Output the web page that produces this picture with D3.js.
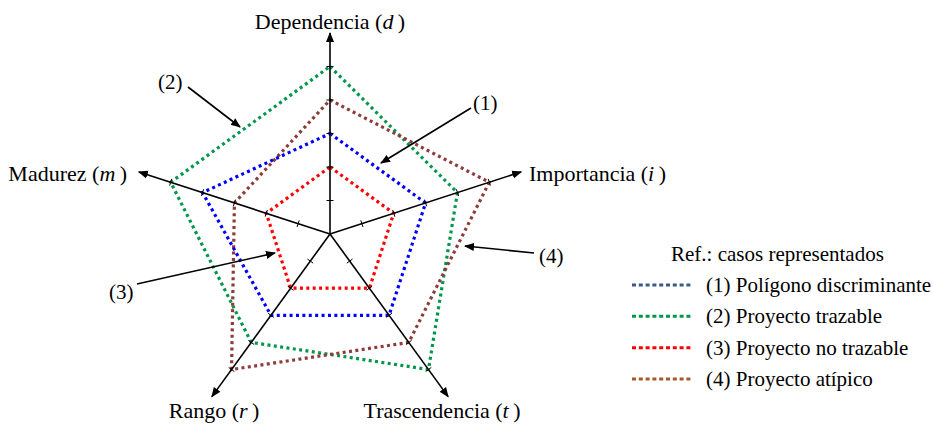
<!DOCTYPE html>
<html>
<head>
<meta charset="utf-8">
<script src="https://cdn.jsdelivr.net/npm/d3@7"></script>
<style>
  body { margin: 0; background: #fff; }
</style>
</head>
<body>
<script>
// axes of the radar, clockwise from the top
var axes = ["d", "i", "t", "r", "m"];
var axisNames = ["Dependencia", "Importancia", "Trascendencia", "Rango", "Madurez"];
var tickValues = [1, 2, 3, 4, 5];

// series values (d, i, t, r, m)
var seriesNames = ["(1) Polígono discriminante", "(2) Proyecto trazable", "(3) Proyecto no trazable", "(4) Proyecto atípico"];
var discriminante = [3, 3, 3, 3, 4];
var trazable = [5, 4, 5, 4, 5];
var noTrazable = [2, 2, 2, 2, 2];
var atipico = [4, 5, 4, 5, 3];

var plotColors = ["#0000ff", "#00964b", "#ff0000", "#8e3b3b"];
var legendColors = ["#3a5a8c", "#00964b", "#ff0000", "#a5582a"];

var width = 933, height = 426;
var cx = 330, cy = 234;
var serif = "Liberation Serif";

var svg = d3.select("body").append("svg")
    .attr("width", width)
    .attr("height", height)
    .attr("font-family", serif);

svg.append("defs").append("marker")
    .attr("id", "arrow")
    .attr("viewBox", "0 0 10 10")
    .attr("refX", 9).attr("refY", 5)
    .attr("markerWidth", 10).attr("markerHeight", 10)
    .attr("markerUnits", "userSpaceOnUse")
    .attr("orient", "auto")
  .append("path")
    .attr("d", "M0,1 L10,5 L0,9 Z")
    .attr("fill", "#000");

var r = d3.scaleLinear().domain([0, 6]).range([0, 201]);
var angle = d3.scalePoint().domain(axes).range([0, 2 * Math.PI * 4 / 5]);

function pt(a, v) {
  var t = angle(a);
  return [cx + r(v) * Math.sin(t), cy - r(v) * Math.cos(t)];
}

var g = svg.append("g").attr("transform", "translate(" + cx + "," + cy + ")");

var radial = d3.lineRadial()
    .angle(function(d, i) { return angle(axes[i]); })
    .radius(function(d) { return r(d); })
    .curve(d3.curveLinearClosed);

// polygons
var series = [trazable, atipico, discriminante, noTrazable];
var seriesColor = [plotColors[1], plotColors[3], plotColors[0], plotColors[2]];
g.selectAll("path.poly")
  .data(series)
  .enter().append("path")
    .attr("class", "poly")
    .attr("d", radial)
    .attr("fill", "none")
    .attr("stroke", function(d, i) { return seriesColor[i]; })
    .attr("stroke-width", 3.2)
    .attr("stroke-dasharray", "3,3.4");

// axes on top
axes.forEach(function(a) {
  var e = pt(a, 6);
  svg.append("line")
    .attr("x1", cx).attr("y1", cy)
    .attr("x2", e[0]).attr("y2", e[1])
    .attr("stroke", "#000")
    .attr("stroke-width", 1.6)
    .attr("marker-end", "url(#arrow)");
  var t = angle(a);
  tickValues.forEach(function(v) {
    var p = pt(a, v);
    var nx = Math.cos(t) * 3.5, ny = Math.sin(t) * 3.5;
    svg.append("line")
      .attr("x1", p[0] - nx).attr("y1", p[1] - ny)
      .attr("x2", p[0] + nx).attr("y2", p[1] + ny)
      .attr("stroke", "#000")
      .attr("stroke-width", 1);
  });
});

// axis labels
var labelPos = [
  {x: 330, y: 29, anchor: "middle"},
  {x: 529, y: 181, anchor: "start"},
  {x: 442, y: 418, anchor: "middle"},
  {x: 214, y: 418, anchor: "middle"},
  {x: 127, y: 181, anchor: "end"}
];
axisNames.forEach(function(name, i) {
  var lp = labelPos[i];
  var t = svg.append("text")
    .attr("x", lp.x).attr("y", lp.y)
    .attr("text-anchor", lp.anchor)
    .attr("font-size", 22);
  t.append("tspan").text(name + " (");
  t.append("tspan").attr("font-style", "italic").text(axes[i]);
  t.append("tspan").text("\u2009)");
});

// callouts
var callouts = [
  {label: "(1)", tx: 473, ty: 110, x1: 471, y1: 108, x2: 381, y2: 163},
  {label: "(2)", tx: 158, ty: 89, x1: 188, y1: 87, x2: 240, y2: 127},
  {label: "(3)", tx: 109, ty: 299, x1: 137, y1: 284, x2: 275, y2: 253},
  {label: "(4)", tx: 539, ty: 263, x1: 534, y1: 253, x2: 465, y2: 246}
];
callouts.forEach(function(c) {
  svg.append("line")
    .attr("x1", c.x1).attr("y1", c.y1)
    .attr("x2", c.x2).attr("y2", c.y2)
    .attr("stroke", "#000")
    .attr("stroke-width", 1.6)
    .attr("marker-end", "url(#arrow)");
  svg.append("text")
    .attr("x", c.tx).attr("y", c.ty)
    .attr("font-size", 21)
    .text(c.label);
});

// legend
var legend = svg.append("g").attr("transform", "translate(632,0)");
legend.append("text")
  .attr("x", 39).attr("y", 261)
  .attr("font-size", 21)
  .text("Ref.: casos representados");
var ly = d3.scalePoint().domain(seriesNames).range([285, 379]);
seriesNames.forEach(function(s, i) {
  legend.append("line")
    .attr("x1", 0).attr("x2", 60)
    .attr("y1", ly(s)).attr("y2", ly(s))
    .attr("stroke", legendColors[i])
    .attr("stroke-width", 3)
    .attr("stroke-dasharray", "4,2.8");
  legend.append("text")
    .attr("x", 74).attr("y", ly(s) + 7)
    .attr("font-size", 21)
    .text(s);
});
</script>
</body>
</html>
